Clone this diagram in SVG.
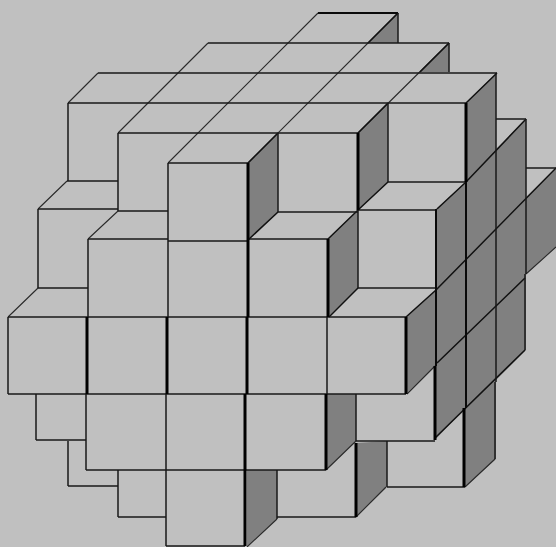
<svg xmlns="http://www.w3.org/2000/svg" width="556" height="547" viewBox="0 0 556 547">
<style>
.s{fill:#808080;stroke:none}
path{fill:none;stroke:#111;stroke-linecap:butt}
.n{stroke-width:1.5;stroke:#181818}
.m{stroke-width:2;stroke:#0a0a0a}
.k{stroke-width:3;stroke:#000}
.d{stroke-width:1.1;stroke:#2a2a2a}
.e{stroke-width:1.5;stroke:#111}
</style>
<rect width="556" height="547" fill="#c0c0c0"/>
<g id="sides">
<polygon class="s" points="368,43 398,13 398,43"/>
<polygon class="s" points="420,72 449,43 449,72"/>
<polygon class="s" points="248,163 278,133 278,212 248,240"/>
<polygon class="s" points="358,133 388,103 388,182 358,210"/>
<polygon class="s" points="328,239 358,210 358,288 328,317"/>
<polygon class="s" points="406,317 436,290 436,209 466,182 466,103 496,73 496,149 526,119 526,197 556,168 556,247 526,274 526,350 496,380 496,459 465,487 465,408 435,440 435,366 406,394"/>
<polygon class="s" points="327,394 356,394 356,441 326,470"/>
<polygon class="s" points="356,443 387,441 387,487 356,517"/>
<polygon class="s" points="247,470 277,470 277,519 247,547"/>
</g>
<g id="edges-diagonal">
<path class="d" d="M318 13L168 163M208 43L118 133M98 73L68 103M67 181L38 209M118 211L88 239M38 288L8 317"/>
<path class="d" d="M398 13L248 163M449 43L358 133"/>
<path class="e" d="M398 13L368 43M449 43L420 72M497 73L466 103M388 103L358 133M278 133L248 163M278 212L248 240M358 210L328 239M388 182L358 210M466 182L437 209M526 119L466 182M556 168L436 290M525 278L437 363M525 350L435 438M358 288L329 317M436 290L406 317"/>
<path class="d" d="M556 247L526 274M435 366L407 394M495 459L465 487M356 441L326 470M386 487L356 517M277 519L247 547"/>
</g>
<g id="edges-horizontal">
<path class="m" d="M318 13H398"/>
<path class="n" d="M208 43H449M98 73H497M68 103H466M118 133H358M168 163H248M67 181H118M388 182H466M38 209H118M358 210H436M118 211H168M278 212H358M88 239H168M248 239H328M168 241H248M38 288H88M358 288H436M8 317H406M8 394H406M36 440H86M356 441H435M86 470H326M247 470H277M68 486H118M387 487H465M118 517H166M277 517H356M166 546H245M496 119H526M526 168H556"/>
</g>
<g id="edges-vertical">
<path class="n" d="M398 13V43M449 43V72M496 73V382M526 119V274M525 274V350M495 382V459M388 103V182M278 133V212M358 210V288M327 317V394M356 394V441M387 441V487M277 470V519M168 163V317M166 394V546M88 239V317M86 394V470M118 470V517M118 133V211M68 103V181M68 441V486M38 209V288M8 317V394M36 394V440"/>
<path class="m" d="M436 209V366M466 182V408"/>
<path class="k" d="M466 103V182M464 408V487M435 366V440M358 133V210M328 239V317M326 394V470M356 443V517M248 163V317M247 317V394M245 394V546M167 317V394M87 317V394M406 317V394"/>
</g>
</svg>
